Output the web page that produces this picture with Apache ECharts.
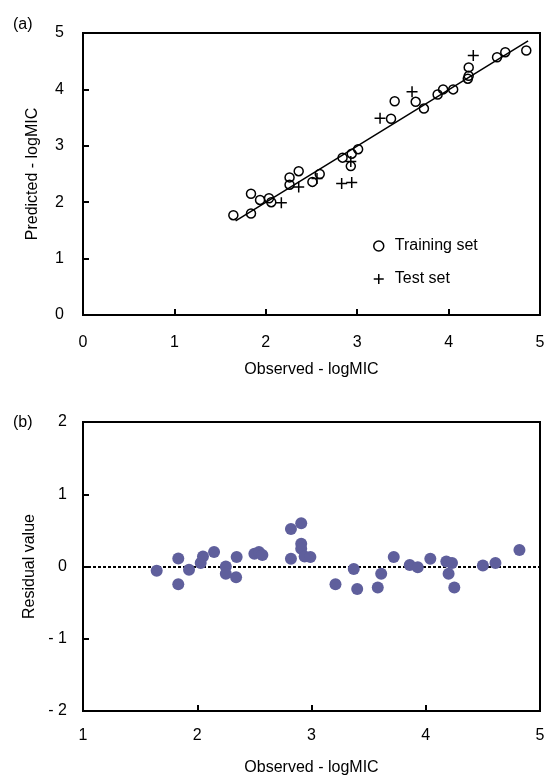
<!DOCTYPE html>
<html lang="en">
<head>
    <meta charset="UTF-8">
    <script src="https://cdn.jsdelivr.net/npm/echarts@6/dist/echarts.min.js" type="text/javascript"></script>
    <style>
        html, body {margin:0;padding:0;background:#fff}
        #chart {width:549px;height:778px}
    </style>
    <title>logMIC</title>
</head>
<body>
    <div id="chart"></div>
    <script type="text/javascript">
        // (a) observed vs predicted
        var obsTrain = [1.645, 1.838, 1.838, 1.937, 2.035, 2.06, 2.26, 2.26, 2.36, 2.51, 2.59, 2.84, 2.94, 3.01, 2.93,
                        3.37, 3.41, 3.64, 3.73, 3.88, 3.94, 4.05, 4.22, 4.21, 4.22, 4.53, 4.62, 4.85];
        var predTrain = [1.77, 1.80, 2.15, 2.04, 2.07, 2.00, 2.44, 2.31, 2.55, 2.36, 2.50, 2.79, 2.86, 2.94, 2.64,
                         3.48, 3.79, 3.78, 3.66, 3.91, 4.00, 4.00, 4.24, 4.19, 4.39, 4.57, 4.66, 4.69];
        var obsTest = [2.17, 2.36, 2.56, 2.83, 2.94, 2.93, 3.25, 3.60, 4.27];
        var predTest = [1.99, 2.27, 2.42, 2.33, 2.35, 2.72, 3.49, 3.96, 4.60];
        var fitX = [1.67, 4.87];
        var fitY = [1.67, 4.86];

        // (b) residuals
        var resObs = [1.645, 1.834, 1.834, 1.928, 2.03, 2.05, 2.147, 2.25, 2.25, 2.345, 2.34, 2.50, 2.54, 2.57,
                      2.82, 2.91, 2.82, 2.91, 2.91, 2.94, 2.99, 3.21, 3.37, 3.40, 3.58, 3.61, 3.72, 3.86, 3.93,
                      4.04, 4.18, 4.23, 4.20, 4.25, 4.50, 4.61, 4.82];
        var resVal = [-0.06, 0.11, -0.245, -0.046, 0.047, 0.14, 0.20, 0.0, -0.10, 0.13, -0.15, 0.176, 0.20, 0.158,
                      0.52, 0.60, 0.107, 0.315, 0.245, 0.14, 0.13, -0.245, -0.036, -0.31, -0.29, -0.10, 0.13, 0.02, -0.01,
                      0.107, 0.07, 0.047, -0.10, -0.29, 0.014, 0.047, 0.23];

        var ticksA = ['0', '1', '2', '3', '4', '5'];
        var ticksBx = ['1', '2', '3', '4', '5'];
        var ticksBy = ['- 2', '- 1', '0', '1', '2'];

        function zip(a, b) {
            var out = [];
            for (var i = 0; i < a.length; i++) out.push([a[i], b[i]]);
            return out;
        }

        var font = 'Liberation Sans, Arial, sans-serif';
        var black = '#000';
        var axLine = {onZero: false, lineStyle: {color: black, width: 2}};
        var axTick = {inside: true, length: 6, lineStyle: {color: black, width: 2}};
        var nameStyle = {fontSize: 16, color: black, fontFamily: font};

        var ec = echarts.init(document.getElementById('chart'));
        var option = {
            animation: false,
            textStyle: {fontFamily: font, fontSize: 16, color: black},
            title: [
                {text: '(a)', left: 13, top: 17, padding: 0, textStyle: {fontSize: 16, fontWeight: 'normal', color: black, fontFamily: font}},
                {text: '(b)', left: 13, top: 415, padding: 0, textStyle: {fontSize: 16, fontWeight: 'normal', color: black, fontFamily: font}}
            ],
            legend: {
                data: ['Training set', 'Test set'],
                orient: 'vertical',
                left: 373, top: 238,
                padding: 0,
                itemWidth: 22, itemHeight: 10, itemGap: 17,
                itemStyle: {borderWidth: 1.5},
                textStyle: {fontSize: 16, color: black, fontFamily: font}
            },
            grid: [
                {left: 83, top: 33, width: 457, height: 282, show: true, borderColor: black, borderWidth: 2},
                {left: 83, top: 422, width: 457, height: 289, show: true, borderColor: black, borderWidth: 2}
            ],
            xAxis: [
                {gridIndex: 0, type: 'value', min: 0, max: 5, interval: 1,
                 name: 'Observed - logMIC', nameLocation: 'middle', nameGap: 47, nameTextStyle: nameStyle,
                 axisLine: axLine, axisTick: axTick, splitLine: {show: false},
                 axisLabel: {margin: 20, fontSize: 16, color: black, formatter: function (v) { return ticksA[v]; }}},
                {gridIndex: 1, type: 'value', min: 1, max: 5, interval: 1,
                 name: 'Observed - logMIC', nameLocation: 'middle', nameGap: 49, nameTextStyle: nameStyle,
                 axisLine: axLine, axisTick: axTick, splitLine: {show: false},
                 axisLabel: {margin: 17, fontSize: 16, color: black, formatter: function (v) { return ticksBx[v - 1]; }}}
            ],
            yAxis: [
                {gridIndex: 0, type: 'value', min: 0, max: 5, interval: 1,
                 name: 'Predicted - logMIC', nameLocation: 'middle', nameGap: 42, nameTextStyle: nameStyle,
                 axisLine: axLine, axisTick: axTick, splitLine: {show: false},
                 axisLabel: {margin: 19, fontSize: 16, color: black, formatter: function (v) { return ticksA[v]; }}},
                {gridIndex: 1, type: 'value', min: -2, max: 2, interval: 1,
                 name: 'Residual value', nameLocation: 'middle', nameGap: 42, nameTextStyle: nameStyle,
                 axisLine: axLine, axisTick: axTick, splitLine: {show: false},
                 axisLabel: {margin: 16, fontSize: 16, color: black, formatter: function (v) { return ticksBy[v + 2]; }}}
            ],
            series: [
                {name: 'fit', type: 'line', xAxisIndex: 0, yAxisIndex: 0, data: zip(fitX, fitY),
                 showSymbol: false, lineStyle: {color: black, width: 1.5}, z: 1},
                {name: 'Training set', type: 'scatter', xAxisIndex: 0, yAxisIndex: 0, data: zip(obsTrain, predTrain),
                 symbol: 'circle', symbolSize: 9,
                 itemStyle: {color: 'rgba(0,0,0,0)', borderColor: black, borderWidth: 1.5, opacity: 1}, z: 3},
                {name: 'Test set', type: 'scatter', xAxisIndex: 0, yAxisIndex: 0, data: zip(obsTest, predTest),
                 symbol: 'path://M5,0L5,10M0,5L10,5', symbolSize: 11,
                 itemStyle: {color: black, borderColor: black, borderWidth: 1.5, opacity: 1}, z: 3},
                {name: 'Residual', type: 'scatter', xAxisIndex: 1, yAxisIndex: 1, data: zip(resObs, resVal),
                 symbol: 'circle', symbolSize: 12,
                 itemStyle: {color: '#5f5f9c', opacity: 1}, z: 3,
                 markLine: {silent: true, symbol: 'none', label: {show: false}, z: 1,
                            lineStyle: {color: black, width: 2, type: [3, 2]}, data: [{yAxis: 0}]}}
            ]
        };
        ec.setOption(option);
    </script>
</body>
</html>
